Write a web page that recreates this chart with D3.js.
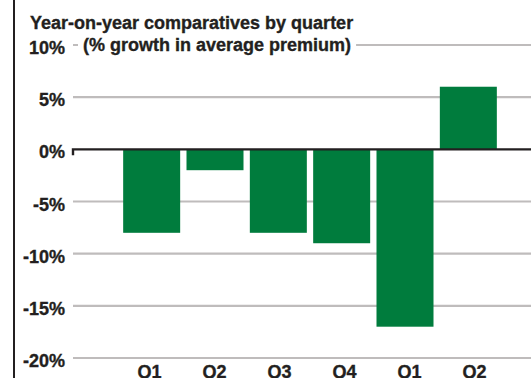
<!DOCTYPE html>
<html>
<head>
<meta charset="utf-8">
<script src="https://cdn.jsdelivr.net/npm/d3@7"></script>
<style>
  html, body { margin: 0; padding: 0; background: #fff; }
  svg { display: block; }
  text { font-family: "Liberation Sans", Arial, Helvetica, sans-serif; font-weight: bold; fill: #231f20; stroke: #231f20; stroke-width: 0.35; }
</style>
</head>
<body>
<svg id="chart" width="531" height="378"></svg>
<script>
// Quarterly year-on-year growth in average premium (%)
const quarters = ["Q1", "Q2", "Q3", "Q4", "Q1", "Q2"];
const growth = [-8, -2, -8, -9, -17, 6];
const yTicks = [10, 5, 0, -5, -10, -15, -20];
const titleLines = ["Year-on-year comparatives by quarter", "(% growth in average premium)"];

const W = 531, H = 378;
const svg = d3.select("#chart");

const gridLeft = 73, gridRight = 531;

const y = d3.scaleLinear().domain([-20, 10]).range([358, 45]);
const x = d3.scaleBand()
  .domain(d3.range(quarters.length))
  .range([120, 500])
  .paddingInner(0.1)
  .paddingOuter(0.05);

// Left border rule
svg.append("line")
  .attr("x1", 14).attr("x2", 14)
  .attr("y1", 0).attr("y2", H)
  .attr("stroke", "#231f20").attr("stroke-width", 2);

// Horizontal gridlines (zero drawn separately)
svg.append("g").selectAll("line")
  .data(yTicks.filter(d => d !== 0))
  .join("line")
  .attr("x1", gridLeft).attr("x2", gridRight)
  .attr("y1", d => y(d)).attr("y2", d => y(d))
  .attr("stroke", "#bfbcbc").attr("stroke-width", 2.2);

// Y-axis labels
const fmt = d => d + "%";
svg.append("g").selectAll("text")
  .data(yTicks)
  .join("text")
  .attr("x", 65)
  .attr("y", d => y(d) + 9)
  .attr("text-anchor", "end")
  .attr("font-size", 18)
  .text(fmt);

// Bars
svg.append("g").selectAll("rect")
  .data(growth)
  .join("rect")
  .attr("x", (d, i) => x(i))
  .attr("width", x.bandwidth())
  .attr("y", d => y(Math.max(0, d)))
  .attr("height", d => Math.abs(y(d) - y(0)))
  .attr("fill", "#007c3d");

// Zero baseline with a small tick at its left end
svg.append("path")
  .attr("d", `M${gridLeft},${y(0) + 6}V${y(0)}H${gridRight}`)
  .attr("fill", "none")
  .attr("stroke", "#231f20").attr("stroke-width", 2.4);

// Quarter labels
const xl = d3.scaleBand()
  .domain(d3.range(quarters.length))
  .range([117, 507]);
svg.append("g").selectAll("text")
  .data(quarters)
  .join("text")
  .attr("x", (d, i) => xl(i) + xl.bandwidth() / 2)
  .attr("y", 378)
  .attr("text-anchor", "middle")
  .attr("font-size", 18)
  .text(d => d);

// Title
svg.append("text")
  .attr("x", 30).attr("y", 29)
  .attr("font-size", 18)
  .text(titleLines[0]);

const sub = svg.append("text")
  .attr("x", 83).attr("y", 51)
  .attr("font-size", 18)
  .text(titleLines[1]);
const bb = sub.node().getBBox();
svg.insert("rect", () => sub.node())
  .attr("x", bb.x - 5).attr("y", y(10) - 3)
  .attr("width", bb.width + 10).attr("height", 6)
  .attr("fill", "#fff");
</script>
</body>
</html>
